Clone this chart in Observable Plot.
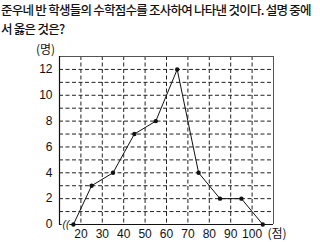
<!DOCTYPE html>
<html><head><meta charset="utf-8">
<script src="https://cdn.jsdelivr.net/npm/d3@7"></script>
<script src="https://cdn.jsdelivr.net/npm/@observablehq/plot@0.6"></script>
<style>
body{margin:0;background:#fff;width:320px;height:242px;overflow:hidden}
#t{font-family:"Noto Sans CJK KR",sans-serif;font-size:12.5px;font-weight:500;line-height:19px;color:#111;padding:0 0 0 1px;letter-spacing:-0.75px;height:40px;white-space:nowrap}
svg{display:block}
</style></head><body>
<div id="t">준우네 반 학생들의 수학점수를 조사하여 나타낸 것이다. 설명 중에<br>서 옳은 것은?</div>
<div id="c"></div>
<script>
const scores = [16.5, 25, 35, 45, 55, 65, 75, 85, 95, 105];
const counts = [0, 3, 4, 7, 8, 12, 4, 2, 2, 0];
const xTicks = [20, 30, 40, 50, 60, 70, 80, 90, 100];
const yTicks = [0, 2, 4, 6, 8, 10, 12];
const yGrid = [1,2,3,4,5,6,7,8,9,10,11,12];
const yUnit = "(명)";
const xUnit = "(점)";
const data = scores.map((s,i)=>({s, c: counts[i]}));
const chart = Plot.plot({
  width: 320, height: 202,
  marginLeft: 59, marginRight: 47, marginTop: 16, marginBottom: 18,
  style: {fontFamily: "Liberation Sans, Arial, sans-serif", fontSize: "12px", color: "#111", background: "#fff"},
  x: {domain: [10, 110], ticks: xTicks, tickSize: 0, tickPadding: 5, label: null},
  y: {domain: [0, 13], ticks: yTicks, tickSize: 0, tickPadding: 7, label: null},
  marks: [
    Plot.ruleX(xTicks, {stroke: "#222", strokeDasharray: "4,2.5", strokeWidth: 1}),
    Plot.ruleY(yGrid, {stroke: "#222", strokeDasharray: "4,2.5", strokeWidth: 1}),
    Plot.ruleY([13], {stroke: "#555", strokeWidth: 1}),
    Plot.ruleX([110], {stroke: "#555", strokeWidth: 1}),
    Plot.ruleX([10], {stroke: "#111", strokeWidth: 1.2}),
    Plot.ruleY([0], {stroke: "#111", strokeWidth: 1.2}),
    Plot.line(data, {x: "s", y: "c", stroke: "#111", strokeWidth: 1}),
    Plot.dot(data, {x: "s", y: "c", fill: "#111", r: 2.2}),
    Plot.axisX({ticks: xTicks, tickSize: 0, tickPadding: 5}),
    Plot.axisY({ticks: yTicks, tickSize: 0, tickPadding: 7}),
    Plot.text([xUnit], {frameAnchor: "bottom-right", text: d => d, dx: -6, dy: 10, textAnchor: "start", lineAnchor: "middle", fontFamily: "Noto Sans CJK KR, sans-serif", fontSize: 12}),
    Plot.text([yUnit], {frameAnchor: "top-left", text: d => d, dx: -14, dy: -6, textAnchor: "middle", lineAnchor: "middle", fontFamily: "Noto Sans CJK KR, sans-serif", fontSize: 12}),
    Plot.text(["(("], {x: 13, y: 0, text: d => d, fontSize: 10, fontStyle: "italic", stroke: "#fff", strokeWidth: 3, paintOrder: "stroke", fill: "#111"})
  ]
});
document.getElementById("c").appendChild(chart);
</script>
</body></html>
